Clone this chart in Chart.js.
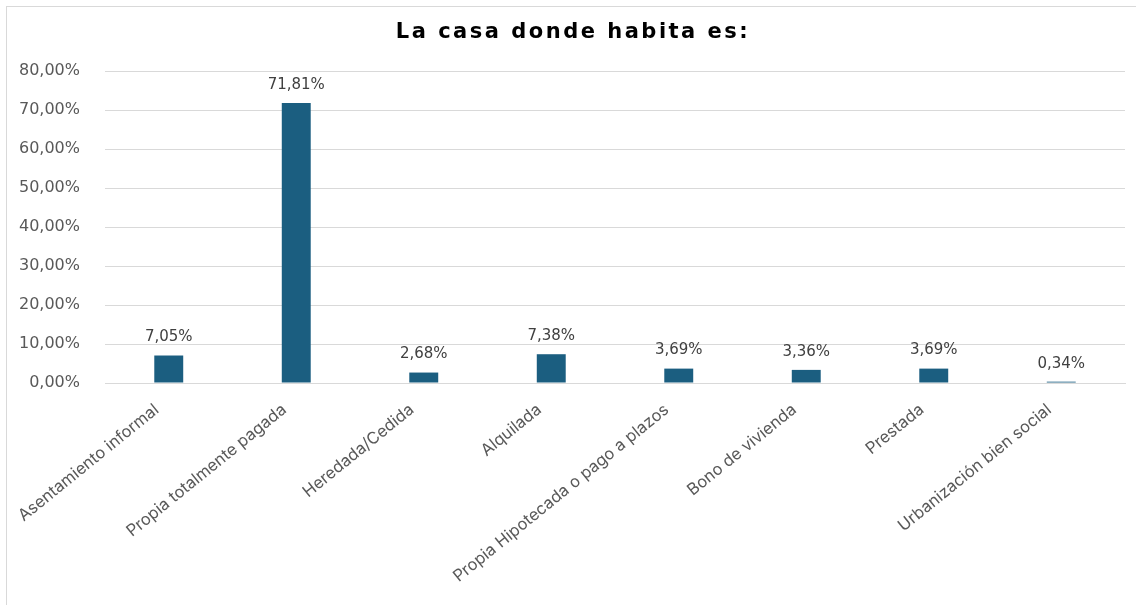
<!DOCTYPE html>
<html>
<head>
<meta charset="utf-8">
<script src="https://cdn.jsdelivr.net/npm/chart.js@4.4.1/dist/chart.umd.min.js"></script>
<style>
  html, body { margin: 0; padding: 0; background: #ffffff; overflow: hidden; }
  #wrap { position: relative; width: 1136px; height: 605px; overflow: hidden; }
  #frame { position: absolute; left: 6px; top: 6px; width: 1300px; height: 700px; border-left: 1px solid #d9d9d9; border-top: 1px solid #d9d9d9; box-sizing: border-box; }
  canvas { position: absolute; left: 0; top: 0; }
</style>
</head>
<body>
<div id="wrap">
  <div id="frame"></div>
  <canvas id="chart" width="1136" height="605"></canvas>
</div>
<script>
// Tipos de tenencia de la vivienda y su porcentaje
const titleText = 'La casa donde habita es:';
const categories = [
  'Asentamiento informal',
  'Propia totalmente pagada',
  'Heredada/Cedida',
  'Alquilada',
  'Propia Hipotecada o pago a plazos',
  'Bono de vivienda',
  'Prestada',
  'Urbanización bien social'
];
const percentages = [7.05, 71.81, 2.68, 7.38, 3.69, 3.36, 3.69, 0.34];
const yTicks = [0, 10, 20, 30, 40, 50, 60, 70, 80];

const fmtPct = v => v.toFixed(2).replace('.', ',') + '%';

// Etiquetas de valor encima de cada barra
const valueLabels = {
  id: 'valueLabels',
  afterDatasetsDraw(chart) {
    const ctx = chart.ctx;
    const meta = chart.getDatasetMeta(0);
    ctx.save();
    ctx.font = '15px "DejaVu Sans"';
    ctx.fillStyle = '#404040';
    ctx.textAlign = 'center';
    ctx.textBaseline = 'middle';
    meta.data.forEach((bar, i) => {
      ctx.fillText(fmtPct(chart.data.datasets[0].data[i]), bar.x, bar.y - 18);
    });
    ctx.restore();
  }
};

// Título con espaciado entre letras
const spacedTitle = {
  id: 'spacedTitle',
  afterDraw(chart) {
    const ctx = chart.ctx;
    ctx.save();
    ctx.font = 'bold 21px "DejaVu Sans"';
    ctx.letterSpacing = '2.5px';
    ctx.fillStyle = '#000000';
    ctx.textAlign = 'center';
    ctx.textBaseline = 'middle';
    ctx.fillText(titleText, 573, 33);
    ctx.restore();
  }
};

new Chart(document.getElementById('chart'), {
  type: 'bar',
  data: {
    labels: categories,
    datasets: [{
      data: percentages,
      backgroundColor: '#1b5e80',
      borderWidth: 0,
      categoryPercentage: 1,
      barPercentage: 0.227
    }]
  },
  options: {
    responsive: false,
    devicePixelRatio: 1,
    animation: false,
    layout: { padding: { top: 71, right: 11, bottom: 0, left: 0 } },
    plugins: {
      legend: { display: false },
      title: { display: false },
      tooltip: { enabled: false }
    },
    scales: {
      x: {
        grid: { display: false, drawTicks: false },
        border: { display: true, color: '#d9d9d9' },
        ticks: {
          autoSkip: false,
          minRotation: 39,
          maxRotation: 39,
          padding: 17,
          labelOffset: -12,
          color: '#595959',
          font: { family: 'Inter', size: 16.5 }
        },
        afterFit(scale) { scale.height = 222; }
      },
      y: {
        min: 0,
        max: 80,
        afterBuildTicks(scale) { scale.ticks = yTicks.map(v => ({ value: v })); },
        grid: { color: '#d9d9d9', drawTicks: false },
        border: { display: false },
        ticks: {
          padding: 25,
          color: '#595959',
          font: { family: 'DejaVu Sans', size: 16 },
          callback: v => fmtPct(v)
        },
        afterFit(scale) { scale.width = 105; }
      }
    }
  },
  plugins: [valueLabels, spacedTitle]
});
</script>
</body>
</html>
